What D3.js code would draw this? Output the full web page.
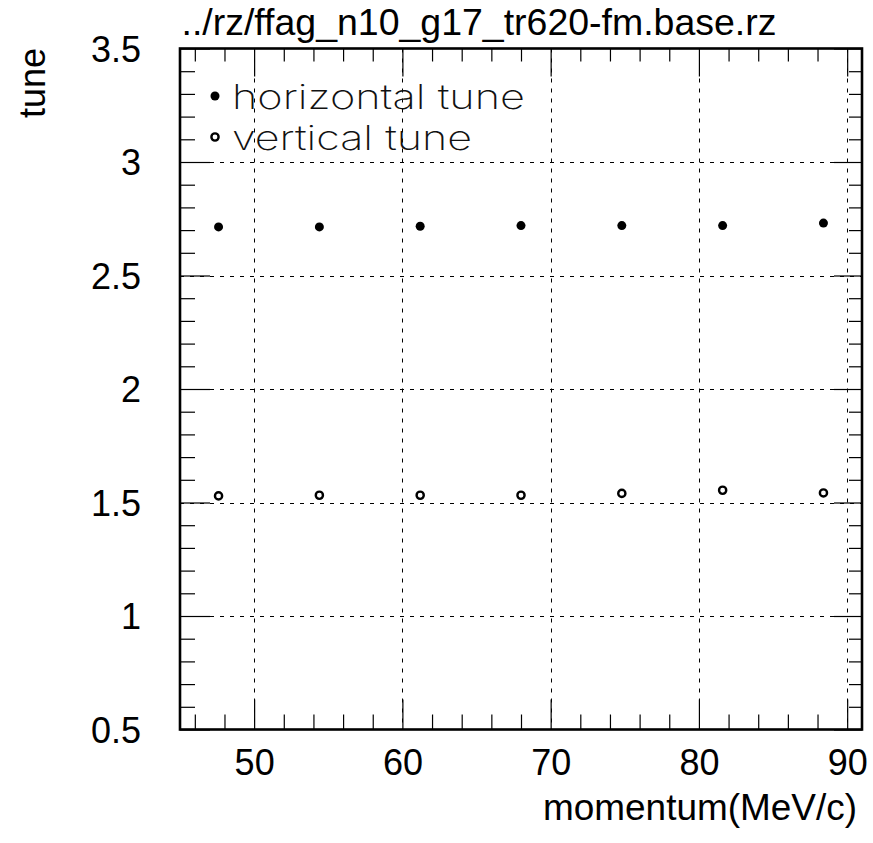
<!DOCTYPE html>
<html>
<head>
<meta charset="utf-8">
<script src="https://cdn.jsdelivr.net/npm/d3@7"></script>
<style>
  html, body { margin: 0; padding: 0; background: #fff; }
  svg { display: block; }
  .lbl { font-family: "Liberation Sans", Arial, Helvetica, sans-serif; font-size: 36px; fill: #000; }
  .leg { font-family: "Inter", "Lato", sans-serif; font-weight: 200; font-size: 34px; fill: #111; }
</style>
</head>
<body>
<svg id="chart" width="873" height="843"></svg>
<script>
// ---- data ----
const momentum       = [47.6, 54.4, 61.2, 68.0, 74.8, 81.6, 88.4];
const horizontalTune = [2.714, 2.714, 2.717, 2.720, 2.720, 2.720, 2.731];
const verticalTune   = [1.529, 1.532, 1.532, 1.532, 1.540, 1.554, 1.542];
const xMajorTicks = [50, 60, 70, 80, 90];
const xMinorTicks = [46, 48, 52, 54, 56, 58, 62, 64, 66, 68, 72, 74, 76, 78, 82, 84, 86, 88];
const yMajorTicks = [0.5, 1, 1.5, 2, 2.5, 3, 3.5];
const yMinorTicks = [0.6, 0.7, 0.8, 0.9, 1.1, 1.2, 1.3, 1.4, 1.6, 1.7, 1.8, 1.9,
                     2.1, 2.2, 2.3, 2.4, 2.6, 2.7, 2.8, 2.9, 3.1, 3.2, 3.3, 3.4];
const xGrid = [50, 60, 70, 80, 90];
const yGrid = [1, 1.5, 2, 2.5, 3];
const titleText = "../rz/ffag_n10_g17_tr620-fm.base.rz";
const xTitle = "momentum(MeV/c)";
const yTitle = "tune";
const legendLabels = ["horizontal tune", "vertical tune"];

// ---- layout ----
const L = 180, R = 862, T = 48.5, B = 729.5;
const x = d3.scaleLinear().domain([45, 91]).range([L, R]);
const y = d3.scaleLinear().domain([0.5, 3.5]).range([B, T]);

const svg = d3.select("#chart");

// gridlines
const grid = svg.append("g").attr("stroke", "#000").attr("stroke-width", 1).attr("stroke-dasharray", "4,6");
grid.selectAll(".vg").data(xGrid).join("line")
  .attr("x1", d => Math.round(x(d)) + 0.5).attr("x2", d => Math.round(x(d)) + 0.5)
  .attr("y1", T).attr("y2", B);
grid.selectAll(".hg").data(yGrid).join("line")
  .attr("y1", d => Math.round(y(d)) + 0.5).attr("y2", d => Math.round(y(d)) + 0.5)
  .attr("x1", L).attr("x2", R);

// tick helper
function ticks(axisFn, scale, vals, size, transform) {
  const g = svg.append("g").attr("transform", transform)
    .call(axisFn(scale).tickValues(vals).tickSize(size).tickFormat(""));
  g.select(".domain").remove();
  g.selectAll(".tick line").attr("stroke", "#000").attr("stroke-width", 1.2);
}
// bottom (ticks up), top (ticks down), left (ticks right), right (ticks left)
ticks(d3.axisTop, x, xMajorTicks, 30, `translate(0,${B})`);
ticks(d3.axisTop, x, xMinorTicks, 15, `translate(0,${B})`);
ticks(d3.axisBottom, x, xMajorTicks, 28, `translate(0,${T})`);
ticks(d3.axisBottom, x, xMinorTicks, 13, `translate(0,${T})`);
ticks(d3.axisRight, y, yMajorTicks, 30, `translate(${L},0)`);
ticks(d3.axisRight, y, yMinorTicks, 15, `translate(${L},0)`);
ticks(d3.axisLeft, y, yMajorTicks, 28, `translate(${R},0)`);
ticks(d3.axisLeft, y, yMinorTicks, 13, `translate(${R},0)`);

// tick labels via axes
const xAx = svg.append("g").attr("transform", `translate(0,${B})`)
  .call(d3.axisBottom(x).tickValues(xMajorTicks).tickSize(0).tickPadding(20).tickFormat(d3.format("d")));
xAx.select(".domain").remove();
xAx.selectAll("text").attr("class", "lbl").attr("font-size", null).attr("font-family", null)
  .attr("dy", null).attr("y", 45.5);
const yAx = svg.append("g").attr("transform", `translate(${L},0)`)
  .call(d3.axisLeft(y).tickValues(yMajorTicks).tickSize(0).tickPadding(39).tickFormat(d => String(d)));
yAx.select(".domain").remove();
yAx.selectAll("text").attr("class", "lbl").attr("font-size", null).attr("font-family", null)
  .attr("dy", "0.36em");
svg.selectAll("g").attr("font-size", null).attr("font-family", null);

// frame
svg.append("rect").attr("x", L).attr("y", T).attr("width", R - L).attr("height", B - T)
  .attr("fill", "none").attr("stroke", "#000").attr("stroke-width", 2.6);

// data points
svg.append("g").selectAll("circle").data(momentum).join("circle")
  .attr("cx", d => x(d)).attr("cy", (d, i) => y(horizontalTune[i])).attr("r", 4.5).attr("fill", "#000");
svg.append("g").selectAll("circle").data(momentum).join("circle")
  .attr("cx", d => x(d)).attr("cy", (d, i) => y(verticalTune[i])).attr("r", 3.6)
  .attr("fill", "none").attr("stroke", "#000").attr("stroke-width", 2.4);

// legend
svg.append("circle").attr("cx", 215).attr("cy", 96).attr("r", 4.5).attr("fill", "#000");
svg.append("circle").attr("cx", 215).attr("cy", 137).attr("r", 3.6)
  .attr("fill", "none").attr("stroke", "#000").attr("stroke-width", 2.4);
svg.append("text").attr("class", "leg").attr("x", 232).attr("y", 109)
  .attr("textLength", 293).attr("lengthAdjust", "spacingAndGlyphs").text(legendLabels[0]);
svg.append("text").attr("class", "leg").attr("x", 232).attr("y", 150)
  .attr("textLength", 240).attr("lengthAdjust", "spacingAndGlyphs").text(legendLabels[1]);

// titles
svg.append("text").attr("class", "lbl").attr("x", 181.5).attr("y", 35)
  .attr("textLength", 595).attr("lengthAdjust", "spacingAndGlyphs").text(titleText);
svg.append("text").attr("class", "lbl").attr("x", 543).attr("y", 820)
  .attr("textLength", 314).attr("lengthAdjust", "spacingAndGlyphs").text(xTitle);
svg.append("text").attr("class", "lbl").attr("transform", "translate(45,48) rotate(-90)")
  .attr("text-anchor", "end").text(yTitle);
</script>
</body>
</html>
